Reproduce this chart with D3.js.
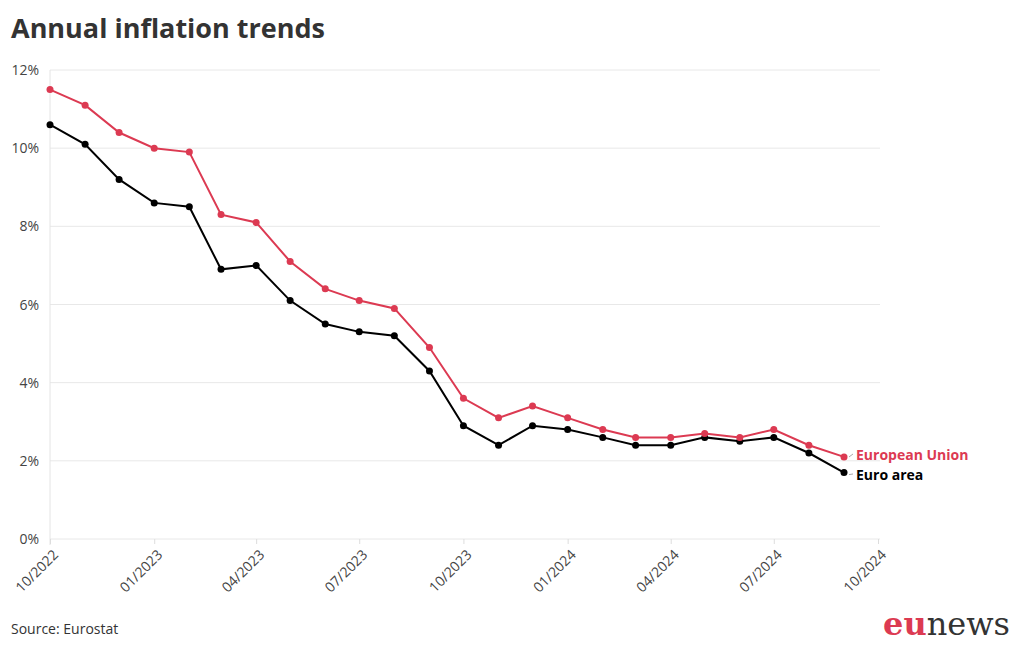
<!DOCTYPE html>
<html><head><meta charset="utf-8">
<script src="https://cdn.jsdelivr.net/npm/d3@7"></script>
<style>
body{margin:0;background:#fff;}
svg{display:block;}
</style></head>
<body>
<svg id="chart" width="1020" height="650"></svg>
<script>
const months = ["2022-10","2022-11","2022-12","2023-01","2023-02","2023-03","2023-04","2023-05","2023-06","2023-07","2023-08","2023-09","2023-10","2023-11","2023-12","2024-01","2024-02","2024-03","2024-04","2024-05","2024-06","2024-07","2024-08","2024-09"];
const euValues = [11.5,11.1,10.4,10.0,9.9,8.3,8.1,7.1,6.4,6.1,5.9,4.9,3.6,3.1,3.4,3.1,2.8,2.6,2.6,2.7,2.6,2.8,2.4,2.1];
const euroAreaValues = [10.6,10.1,9.2,8.6,8.5,6.9,7.0,6.1,5.5,5.3,5.2,4.3,2.9,2.4,2.9,2.8,2.6,2.4,2.4,2.6,2.5,2.6,2.2,1.7];
const yTicks = [0,2,4,6,8,10,12];
const xTickLabels = ["10/2022","01/2023","04/2023","07/2023","10/2023","01/2024","04/2024","07/2024","10/2024"];
const seriesNames = ["European Union","Euro area"];
const seriesColors = ["#dc3a52","#000000"];

const svg = d3.select("#chart");
const font = "'Open Sans', 'Noto Sans', sans-serif";
const parse = d3.timeParse("%Y-%m");
const parseTick = d3.timeParse("%m/%Y");
const dates = months.map(parse);

const x = d3.scaleTime().domain([parse("2022-10"), parse("2024-10")]).range([50, 878]);
const y = d3.scaleLinear().domain([0,12]).range([539, 70]);

// title
svg.append("text").attr("x",11).attr("y",38).attr("font-family",font).attr("font-weight",700)
  .attr("font-size",27).attr("fill","#333").text("Annual inflation trends");

// grid
svg.append("g").selectAll("line").data(yTicks).join("line")
  .attr("x1",50).attr("x2",880).attr("y1",d=>y(d)).attr("y2",d=>y(d))
  .attr("stroke","#e8e8e8").attr("stroke-width",1);
svg.append("line").attr("x1",50).attr("x2",50).attr("y1",70).attr("y2",545).attr("stroke","#e4e4e4");

// y labels
svg.append("g").selectAll("text").data(yTicks).join("text")
  .attr("x",39).attr("y",d=>y(d)+5).attr("text-anchor","end")
  .attr("font-family",font).attr("font-size",14).attr("fill","#444").text(d=>d+"%");

// x axis
const xTickDates = xTickLabels.map(parseTick);
const xAxis = d3.axisBottom(x).tickValues(xTickDates).tickSize(5).tickFormat(d3.timeFormat("%m/%Y"));
const gx = svg.append("g").attr("transform","translate(0,539)").call(xAxis);
gx.select(".domain").remove();
gx.selectAll(".tick line").attr("stroke","#ddd");
gx.selectAll(".tick text").attr("font-family",font).attr("font-size",14).attr("fill","#444")
  .attr("text-anchor","end").attr("dy",0).attr("dx",0)
  .attr("transform","translate(3,11) rotate(-45)");

// lines
const allSeries = [euValues, euroAreaValues];
const line = d3.line().x((d,i)=>x(dates[i])).y(d=>y(d));
allSeries.slice().reverse().forEach((vals,ri)=>{
  const i = allSeries.length-1-ri;
  svg.append("path").datum(vals).attr("d",line).attr("fill","none")
    .attr("stroke",seriesColors[i]).attr("stroke-width",2);
  svg.append("g").selectAll("circle").data(vals).join("circle")
    .attr("cx",(d,j)=>x(dates[j])).attr("cy",d=>y(d)).attr("r",3.5).attr("fill",seriesColors[i]);
});

// end labels
const labelY = [455, 475];
allSeries.forEach((vals,i)=>{
  const lx = x(dates[dates.length-1]);
  const ly = y(vals[vals.length-1]);
  svg.append("line").attr("x1",lx+5).attr("y1",ly+ (i===0?0:2)).attr("x2",lx+9).attr("y2",labelY[i]-1)
    .attr("stroke","#aaa").attr("stroke-width",1);
  svg.append("text").attr("x",856).attr("y",labelY[i]+5).attr("font-family",font)
    .attr("font-weight",700).attr("font-size",14).attr("fill",seriesColors[i]).text(seriesNames[i]);
});

// source
svg.append("text").attr("x",11).attr("y",634).attr("font-family",font).attr("font-size",14)
  .attr("fill","#333").text("Source: Eurostat");

// logo
const logo = svg.append("text").attr("x",1010).attr("y",635).attr("text-anchor","end")
  .attr("font-family","'DejaVu Serif', serif").attr("font-size",32);
logo.append("tspan").attr("fill","#dc3a52").attr("font-weight",700).text("eu");
logo.append("tspan").attr("fill","#333").attr("font-weight",400).text("news");
</script>
</body></html>
